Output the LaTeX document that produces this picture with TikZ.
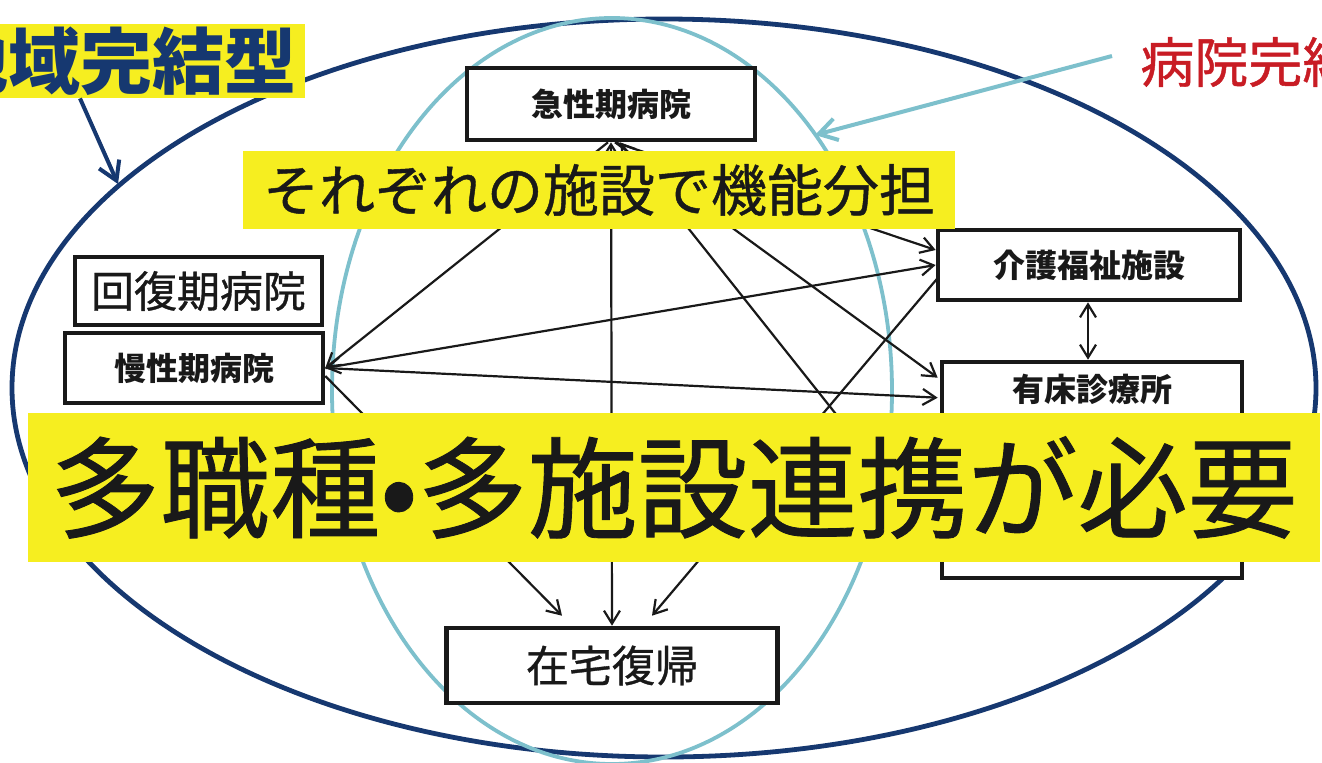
\documentclass[tikz,border=0pt]{standalone}
\usepackage{fontspec}
\newfontfamily\cjk{Noto Sans CJK JP}
\newfontfamily\cjkm{Noto Sans CJK JP}[FakeBold=0.8]
\usetikzlibrary{arrows.meta,calc}
\definecolor{navy}{RGB}{22,56,112}
\definecolor{lblue}{RGB}{125,192,204}
\definecolor{hired}{RGB}{200,28,36}
\definecolor{hiyellow}{RGB}{246,238,32}
\definecolor{ink}{RGB}{25,25,25}
\begin{document}
\begin{tikzpicture}[x=0.5pt,y=-0.5pt,
  box/.style={draw=ink, line width=2.3pt, fill=white, inner sep=0pt, text=ink},
  boldlbl/.style={font=\cjk\bfseries\fontsize{16pt}{18pt}\selectfont},
  biglbl/.style={font=\cjkm\fontsize{21.5pt}{24pt}\selectfont},
  band/.style={fill=hiyellow, inner sep=0pt, text=ink},
  conn/.style={draw=ink, line width=1.1pt, -{Straight Barb[length=6.5pt,width=8pt]}},
  conn2/.style={draw=ink, line width=1.1pt, {Straight Barb[length=6.5pt,width=8pt]}-{Straight Barb[length=6.5pt,width=8pt]}}]
\clip (0,0) rectangle (1322,762);
\fill[white] (0,0) rectangle (1322,762);

% ellipses
\draw[navy, line width=2.4pt] (664,388) ellipse [x radius=326pt, y radius=184.5pt];
\draw[lblue, line width=1.9pt] (612,391) ellipse [x radius=140pt, y radius=186.5pt];

% boxes (named nodes; redrawn with text after connectors)
\path (611,104) node[box, minimum width=144pt, minimum height=36pt] (acute) {};
\path (1089,265) node[box, minimum width=151pt, minimum height=35pt] (care) {};
\path (1092,470) node[box, minimum width=150pt, minimum height=108pt] (yusho) {};
\path (198.5,291) node[box, minimum width=123.5pt, minimum height=34pt] (recov) {};
\path (194,368) node[box, minimum width=129pt, minimum height=35pt] (chronic) {};
\path (612,665.5) node[box, minimum width=165.5pt, minimum height=37.5pt] (home) {};

% connectors
\draw[conn] ($(acute.south)+(-3,0)$) -- (chronic.east);
\draw[conn2] (acute.south) -- (home.north);
\draw[conn] ($(yusho.north west)+(0,185)$) -- ($(acute.south)+(9,0)$);
\draw[conn] ($(acute.south)+(4,0)$) -- ($(yusho.north west)+(-2,18)$);
\draw[conn] ($(acute.south)+(4,0)$) -- ($(care.west)+(0,-15)$);
\draw[conn2] (chronic.east) -- (care.west);
\draw[conn] (chronic.east) -- ($(yusho.north west)+(-2,38)$);
\draw[conn] ($(chronic.east)+(0,8)$) -- ($(home.north)+(-50,-10)$);
\draw[conn] ($(care.west)+(2,13)$) -- ($(home.north)+(40,-10)$);
\draw[conn2] ($(care.south)+(-1,0)$) -- ($(care.south |- yusho.north)+(-1,0)$);

% redraw boxes over connectors
\node[box, minimum width=144pt, minimum height=36pt, boldlbl] at (acute) {急性期病院};
\node[box, minimum width=151pt, minimum height=35pt, boldlbl] at (care) {介護福祉施設};
\node[box, minimum width=150pt, minimum height=108pt] at (yusho) {};
\node[boldlbl, text=ink] (yushoText) at ($(yusho.north)+(0,30)$) {有床診療所};
\node[box, minimum width=123.5pt, minimum height=34pt, biglbl] at (recov) {回復期病院};
\node[box, minimum width=129pt, minimum height=35pt, boldlbl] at (chronic) {慢性期病院};
\node[box, minimum width=165.5pt, minimum height=37.5pt, biglbl] at (home) {在宅復帰};

% yellow bands
\node[band, minimum width=356pt, minimum height=39pt, font=\cjkm\fontsize{28pt}{30pt}\selectfont] (share) at (599,190) {それぞれの施設で機能分担};
\node[band, minimum width=646pt, minimum height=74.5pt, font=\cjkm\fontsize{55pt}{60pt}\selectfont] (need) at (674,487.5) {多職種•多施設連携が必要};

% top labels
\node[fill=hiyellow, anchor=east, inner xsep=4pt, inner ysep=0pt, minimum height=37pt, text=navy, font=\cjk\bfseries\fontsize{36pt}{40pt}\selectfont] (region) at (305,61) {地域完結型};
\node[anchor=west, inner sep=0pt, text=hired, font=\cjkm\fontsize{27pt}{30pt}\selectfont] (hosp) at (1140,62) {病院完結型};

\coordinate (navyHit) at (118,184);
\coordinate (blueHit) at (815,135);
\draw[navy, line width=2pt, -{Straight Barb[length=9pt,width=11pt]}] ($(region.south east)+(-225,0)$) -- (navyHit);
\draw[lblue, line width=2pt, -{Straight Barb[length=9pt,width=11pt]}] ($(hosp.west)+(-28,-6)$) -- (blueHit);
\end{tikzpicture}
\end{document}
